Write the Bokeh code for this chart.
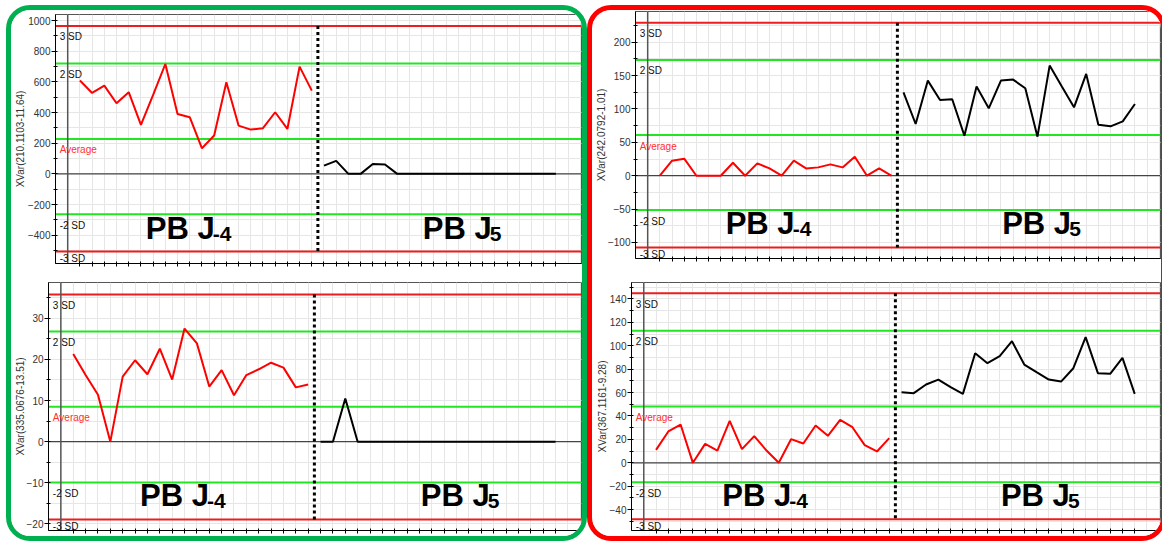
from bokeh.plotting import figure
from bokeh.models import Range1d, Span, Label, FixedTicker, SingleIntervalTicker
from bokeh.layouts import column, row
from bokeh.embed import file_html
from bokeh.resources import INLINE

# ---------------- data ----------------
idx_j4 = list(range(1, 21))
idx_j5 = list(range(21, 41))
x_ticks = list(range(1, 41))
grid_x = list(range(-1, 43))
phase_split = 20.5
sd_labels = ["3 SD", "2 SD", "Average", "-2 SD", "-3 SD"]
sd_label_colors = ["#111111", "#111111", "#ff3030", "#111111", "#111111"]
sd_label_offsets = [-11, -11, -11, -11, -7]
limit_colors = ["#ee1c1c", "#22e622", "#22e622", "#22e622", "#ee1c1c"]
phase_j4_text = "PB J"
phase_j4_sub = "-4"
phase_j5_text = "PB J"
phase_j5_sub = "5"

tl_axis = "XVar(210.1103-11.64)"
tl_j4 = [609, 528, 576, 461, 533, 320, 515, 717, 391, 370, 167, 250, 598, 315, 289, 298, 402, 293, 700, 543]
tl_j5 = [54, 85, 0, 0, 65, 61, 0, 0, 0, 0, 0, 0, 0, 0, 0, 0, 0, 0, 0, 0]
tl_limits = [965, 721, 228, -263, -507]
tl_yrange = (-585, 1040)
tl_tick = 200

bl_axis = "XVar(335.0676-13.51)"
bl_j4 = [21.3, 16.2, 11.4, 0, 15.8, 19.8, 16.4, 22.6, 15.1, 27.5, 23.9, 13.4, 17.4, 11.3, 16.2, 17.6, 19.2, 18.0, 13.2, 13.9]
bl_j5 = [0, 0, 10.5, 0, 0, 0, 0, 0, 0, 0, 0, 0, 0, 0, 0, 0, 0, 0, 0, 0]
bl_limits = [35.8, 26.8, 8.5, -9.9, -18.9]
bl_yrange = (-21.6, 38.7)
bl_tick = 10

tr_axis = "XVar(242.0792-1.01)"
tr_j4 = [0, 22.5, 25.5, 0, 0, 0, 19.5, 0, 18.5, 11, 0, 22.5, 11, 12.5, 17, 12.5, 28.5, 0, 11, 0]
tr_j5 = [125, 77.5, 142.5, 113.5, 114.5, 60, 133.5, 101, 142.5, 144, 131, 58.5, 165, 133.5, 102.5, 152.5, 76.5, 74, 81.5, 107.5]
tr_limits = [229, 173.5, 61, -51.5, -107.5]
tr_yrange = (-124, 246)
tr_tick = 50

br_axis = "XVar(367.1161-9.28)"
br_j4 = [11.1, 26.8, 32.7, 0, 16.2, 10.5, 35.9, 11.7, 22.8, 10.5, 0, 20.2, 16.5, 31.9, 23.1, 36.7, 30.4, 15.1, 9.7, 21.1]
br_j5 = [60.3, 59.5, 66.9, 71.1, 64.6, 58.9, 93.6, 85.1, 91.1, 103.9, 83.9, 77.4, 71.1, 69.4, 80.8, 107.3, 76.6, 76.0, 89.6, 58.9]
br_limits = [144.8, 112.7, 48, -16.5, -48.1]
br_yrange = (-57.8, 154)
br_tick = 20

FONT = "Liberation Sans"


def make_panel(axis_label, j4, j5, limits, yr, tick, w, h, left, top, bottom, standoff):
    p = figure(width=w, height=h, title=None, x_range=Range1d(-1, 42.1), y_range=Range1d(*yr),
               output_backend="svg", toolbar_location=None,
               min_border_left=left, min_border_right=1, min_border_top=top, min_border_bottom=bottom)
    p.frame_align = False
    p.outline_line_color = "#555555"
    p.background_fill_color = "white"
    p.border_fill_color = "white"

    yax = p.yaxis[0]
    yax.ticker = SingleIntervalTicker(interval=tick, num_minor_ticks=2)
    yax.axis_label = axis_label
    yax.axis_label_text_font = FONT
    yax.axis_label_text_font_size = "10px"
    yax.axis_label_text_font_style = "normal"
    yax.axis_label_text_color = "#333333"
    yax.axis_label_standoff = standoff
    yax.major_label_text_font = FONT
    yax.major_label_text_font_size = "10px"
    yax.major_label_text_color = "#333333"
    yax.major_label_standoff = 1
    yax.major_tick_out = 4
    yax.major_tick_in = 0
    yax.minor_tick_in = 2
    yax.minor_tick_out = 2
    yax.axis_line_color = "black"
    yax.major_tick_line_color = "black"
    yax.minor_tick_line_color = "black"

    xax = p.xaxis[0]
    xax.ticker = FixedTicker(ticks=x_ticks, minor_ticks=[])
    xax.major_label_text_font_size = "0px"
    xax.major_label_text_color = None
    xax.major_label_standoff = 0
    xax.major_tick_in = 2
    xax.major_tick_out = 3
    xax.axis_line_color = "black"
    xax.major_tick_line_color = "black"

    p.xgrid.ticker = FixedTicker(ticks=grid_x)
    p.xgrid.grid_line_color = "#e6e6e6"
    p.ygrid.grid_line_color = "#e6e6e6"
    p.ygrid.minor_grid_line_color = "#e6e6e6"

    for lim, col in zip(limits, limit_colors):
        p.add_layout(Span(location=lim, dimension="width", line_color=col, line_width=2, level="underlay"))
    p.add_layout(Span(location=0, dimension="width", line_color="#444444", line_width=1.2, level="underlay"))
    p.add_layout(Span(location=0, dimension="height", line_color="#555555", line_width=1.5, level="underlay"))

    p.line(idx_j4, j4, line_color="#ff0000", line_width=2)
    p.line(idx_j5, j5, line_color="black", line_width=2)
    p.segment(x0=[phase_split], y0=[limits[0]], x1=[phase_split], y1=[limits[-1]],
              line_color="black", line_width=3, line_dash="3 3")

    for lim, txt, col, off in zip(limits, sd_labels, sd_label_colors, sd_label_offsets):
        p.add_layout(Label(x=0, y=lim, text=txt, text_color=col, x_offset=-8, y_offset=off,
                           text_font_size="10px", text_font=FONT,
                           text_baseline="middle", text_align="left"))

    ytxt = yr[1] - 0.86 * (yr[1] - yr[0])
    for xt, main, sub in [(6.4, phase_j4_text, phase_j4_sub), (29.1, phase_j5_text, phase_j5_sub)]:
        p.add_layout(Label(x=xt, y=ytxt, text=main, text_font=FONT, text_font_size="31px",
                           text_font_style="bold", text_color="black", text_baseline="alphabetic"))
        p.add_layout(Label(x=xt, y=ytxt, x_offset=67, y_offset=-5, text=sub, text_font=FONT,
                           text_font_size="21px", text_font_style="bold", text_color="black",
                           text_baseline="alphabetic"))
    return p


p_tl = make_panel(tl_axis, tl_j4, tl_j5, tl_limits, tl_yrange, tl_tick, 571, 260, 44, 4, 7, -1)
p_bl = make_panel(bl_axis, bl_j4, bl_j5, bl_limits, bl_yrange, bl_tick, 571, 266, 37, 12, 6, -2)
p_tr = make_panel(tr_axis, tr_j4, tr_j5, tr_limits, tr_yrange, tr_tick, 569, 260, 43, 1, 12, -2)
p_br = make_panel(br_axis, br_j4, br_j5, br_limits, br_yrange, br_tick, 569, 266, 39, 12, 6, -1)

left_col = column(p_tl, p_bl, styles={"border": "5px solid #00b050", "border-radius": "24px",
                                      "overflow": "hidden", "background": "white", "flex-shrink": "0"})
right_col = column(p_tr, p_br, styles={"border": "5px solid #ff0000", "border-radius": "24px",
                                       "overflow": "hidden", "background": "white", "flex-shrink": "0"})
layout = row(left_col, right_col, width=1156, height=536,
             styles={"margin-left": "6px", "margin-top": "5px", "overflow": "hidden"})

open("out.html", "w").write(file_html(layout, INLINE))
